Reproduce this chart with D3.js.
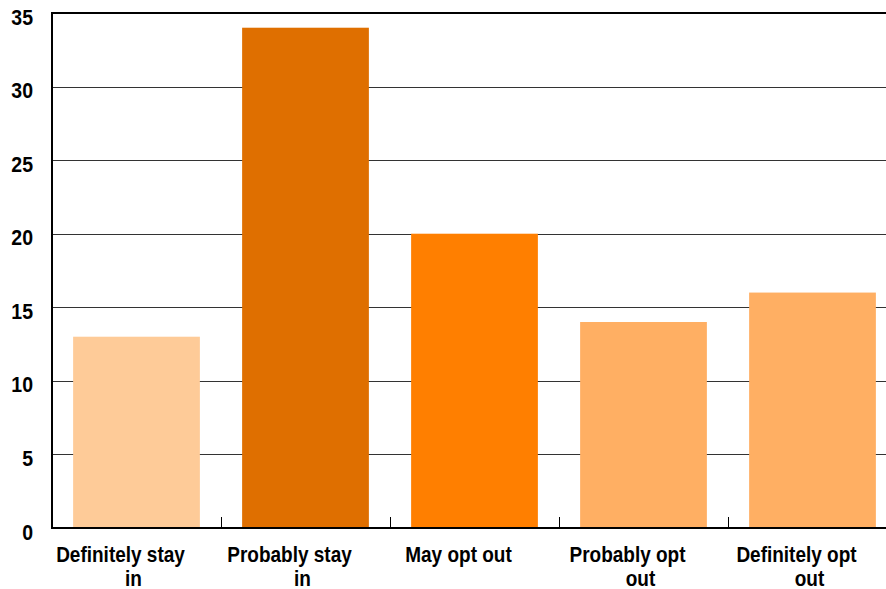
<!DOCTYPE html>
<html>
<head>
<meta charset="utf-8">
<script src="https://cdn.jsdelivr.net/npm/d3@7.9.0/dist/d3.min.js"></script>
<style>
  html, body { margin: 0; padding: 0; background: #fff; overflow: hidden; }
  svg { display: block; font-family: 'Liberation Sans', Arial, sans-serif; }
</style>
</head>
<body>
<div id="chart"></div>
<script>
const categories = ['Definitely stay in', 'Probably stay in', 'May opt out', 'Probably opt out', 'Definitely opt out'];
const labelLines = [['Definitely stay', 'in'], ['Probably stay', 'in'], ['May opt out'], ['Probably opt', 'out'], ['Definitely opt', 'out']];
const values = [13, 34, 20, 14, 16];
const colors = ['#FECB98', '#DF6F00', '#FF7F00', '#FFAF63', '#FFAF63'];
const yTicks = [0, 5, 10, 15, 20, 25, 30, 35];

const width = 886;
const height = 589;
const margin = { top: 13, right: -11, bottom: 61, left: 52 };
const stretch = 1.12; // labels in the original look slightly tall

const svg = d3.select('#chart').append('svg')
  .attr('width', width)
  .attr('height', height);

const x = d3.scaleBand()
  .domain(categories)
  .range([margin.left, width - margin.right])
  .paddingInner(0.25)
  .paddingOuter(0.125);

const y = d3.scaleLinear()
  .domain([0, 35])
  .range([height - margin.bottom, margin.top]);

// gridlines
svg.append('g')
  .selectAll('line')
  .data(yTicks.filter(d => d > 0 && d < 35))
  .join('line')
  .attr('x1', margin.left)
  .attr('x2', width - margin.right)
  .attr('y1', d => Math.round(y(d)) + 0.5)
  .attr('y2', d => Math.round(y(d)) + 0.5)
  .attr('stroke', '#333')
  .attr('stroke-width', 1);

// top border
svg.append('line')
  .attr('x1', margin.left)
  .attr('x2', width - margin.right)
  .attr('y1', y(35))
  .attr('y2', y(35))
  .attr('stroke', '#000')
  .attr('stroke-width', 2);

// bars
svg.append('g')
  .selectAll('rect')
  .data(values)
  .join('rect')
  .attr('x', (d, i) => x(categories[i]))
  .attr('y', d => y(d))
  .attr('width', x.bandwidth())
  .attr('height', d => y(0) - y(d))
  .attr('fill', (d, i) => colors[i]);

// category boundary ticks
const boundaries = categories.slice(1).map(c => x(c) - x.step() * x.paddingInner() / 2);
svg.append('g')
  .selectAll('line')
  .data(boundaries)
  .join('line')
  .attr('x1', d => Math.round(d) + 0.5)
  .attr('x2', d => Math.round(d) + 0.5)
  .attr('y1', y(0))
  .attr('y2', y(0) - 11)
  .attr('stroke', '#000')
  .attr('stroke-width', 1);

// axes lines
svg.append('line')
  .attr('x1', margin.left)
  .attr('x2', width - margin.right)
  .attr('y1', y(0))
  .attr('y2', y(0))
  .attr('stroke', '#000')
  .attr('stroke-width', 2);

svg.append('line')
  .attr('x1', margin.left)
  .attr('x2', margin.left)
  .attr('y1', y(35) - 1)
  .attr('y2', y(0) + 1)
  .attr('stroke', '#000')
  .attr('stroke-width', 2);

// y tick labels
svg.append('g')
  .selectAll('text')
  .data(yTicks)
  .join('text')
  .attr('transform', d => `translate(33,${y(d) + 11.5}) scale(1,${stretch})`)
  .attr('text-anchor', 'end')
  .attr('font-size', 19.5)
  .attr('font-weight', 'bold')
  .attr('fill', '#000')
  .text(d => d);

// x labels (first line sits a bit left of the category centre, as in the original)
const xl = svg.append('g')
  .selectAll('text')
  .data(categories)
  .join('text')
  .attr('transform', d => `translate(${x(d) + x.bandwidth() / 2},562) scale(1,${stretch})`)
  .attr('text-anchor', 'middle')
  .attr('font-size', 19)
  .attr('font-weight', 'bold')
  .attr('fill', '#000');

xl.selectAll('tspan')
  .data((d, i) => labelLines[i])
  .join('tspan')
  .attr('x', (d, i) => i === 0 ? -16 : -3)
  .attr('dy', (d, i) => i === 0 ? 0 : 21)
  .text(d => d);
</script>
</body>
</html>
